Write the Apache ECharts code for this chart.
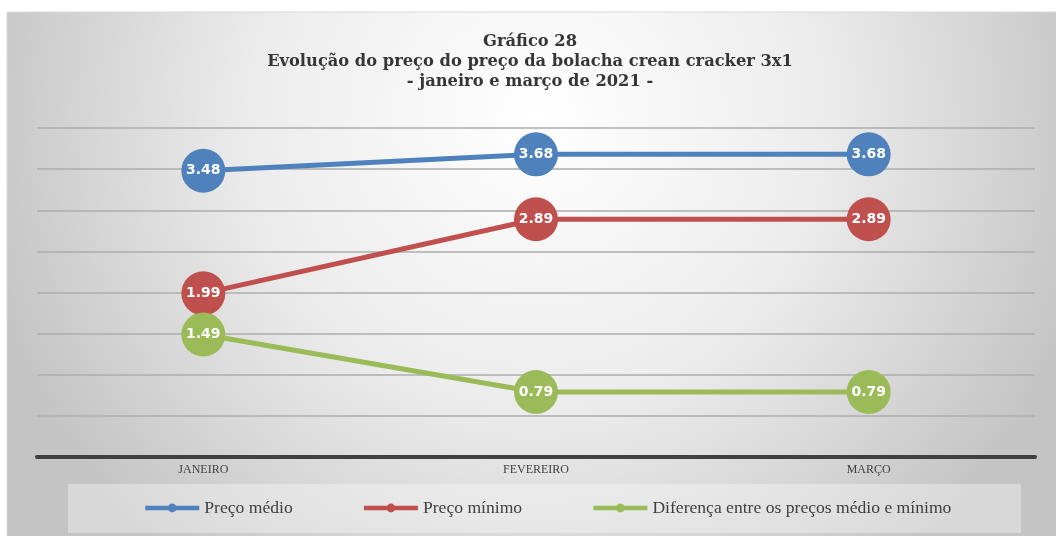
<!DOCTYPE html>
<html>
<head>
<meta charset="utf-8">
<script src="https://cdn.jsdelivr.net/npm/echarts@6/dist/echarts.min.js"></script>
<style>
  html, body { margin: 0; padding: 0; background: #ffffff; }
  #chart { width: 1056px; height: 536px; }
</style>
</head>
<body>
<div id="chart"></div>
<script>
// Months on the horizontal axis
const months = ['JANEIRO', 'FEVEREIRO', 'MARÇO'];

// Prices of the cream cracker biscuit (R$)
const precoMedio = [3.48, 3.68, 3.68];
const precoMinimo = [1.99, 2.89, 2.89];
const diferenca = [1.49, 0.79, 0.79];

const seriesNames = ['Preço médio', 'Preço mínimo', 'Diferença entre os preços médio e mínimo'];
const seriesColors = ['#4f81bd', '#c0504d', '#9bbb59'];

const titleLines = [
  'Gráfico 28',
  'Evolução do preço do preço da bolacha crean cracker 3x1',
  '- janeiro e março de 2021 -'
];

const chart = echarts.init(document.getElementById('chart'), null, { renderer: 'canvas' });

function lineSeries(name, data, color) {
  return {
    name: name,
    type: 'line',
    data: data,
    symbol: 'circle',
    symbolSize: 44,
    lineStyle: { color: color, width: 5 },
    itemStyle: { color: color },
    label: {
      show: true,
      position: 'inside',
      color: '#ffffff',
      fontFamily: 'DejaVu Sans',
      fontWeight: 'bold',
      fontSize: 14,
      formatter: p => p.value.toFixed(2)
    },
    emphasis: { disabled: true },
    animation: false
  };
}

chart.setOption({
  animation: false,
  backgroundColor: '#ffffff',
  graphic: [
    {
      // chart area with a soft radial shading
      type: 'rect',
      z: -10,
      shape: { x: 7, y: 12, width: 1060, height: 530 },
      style: {
        fill: {
          type: 'radial', x: 0.5, y: 0.2, r: 1.08,
          colorStops: [
            { offset: 0, color: '#ffffff' },
            { offset: 0.5, color: '#ececec' },
            { offset: 1, color: '#c4c4c4' }
          ]
        },
        stroke: '#d8d8d8',
        lineWidth: 1
      }
    },
    {
      // legend panel
      type: 'rect',
      z: -5,
      shape: { x: 68, y: 484, width: 953, height: 49 },
      style: { fill: 'rgba(255,255,255,0.35)' }
    }
  ],
  title: {
    text: titleLines.join('\n'),
    left: 525,
    top: 27,
    textAlign: 'center',
    textStyle: {
      fontFamily: 'DejaVu Serif',
      fontWeight: 'bold',
      fontSize: 16.3,
      lineHeight: 20,
      color: '#363636'
    }
  },
  legend: {
    left: 143,
    top: 499,
    padding: 0,
    itemWidth: 54,
    itemHeight: 11,
    itemGap: 69,
    lineStyle: { width: 4.5 },
    textStyle: {
      fontFamily: 'Liberation Serif',
      fontSize: 17.6,
      color: '#404040',
      padding: [0, 0, 0, 0]
    },
    data: seriesNames
  },
  grid: {
    left: 37,
    right: 21,
    top: 128,
    bottom: 79,
    containLabel: false
  },
  xAxis: {
    type: 'category',
    data: months,
    boundaryGap: true,
    axisLine: { show: true, lineStyle: { color: '#404040', width: 4 } },
    axisTick: { show: false },
    axisLabel: {
      margin: 7,
      fontFamily: 'Liberation Serif',
      fontSize: 12,
      color: '#404040'
    }
  },
  yAxis: {
    type: 'value',
    min: 0,
    max: 4,
    interval: 0.5,
    axisLabel: { show: false },
    axisLine: { show: false },
    axisTick: { show: false },
    splitLine: { show: true, lineStyle: { color: '#acacac', width: 1.5 } }
  },
  series: [
    lineSeries(seriesNames[0], precoMedio, seriesColors[0]),
    lineSeries(seriesNames[1], precoMinimo, seriesColors[1]),
    lineSeries(seriesNames[2], diferenca, seriesColors[2])
  ]
});
</script>
</body>
</html>
